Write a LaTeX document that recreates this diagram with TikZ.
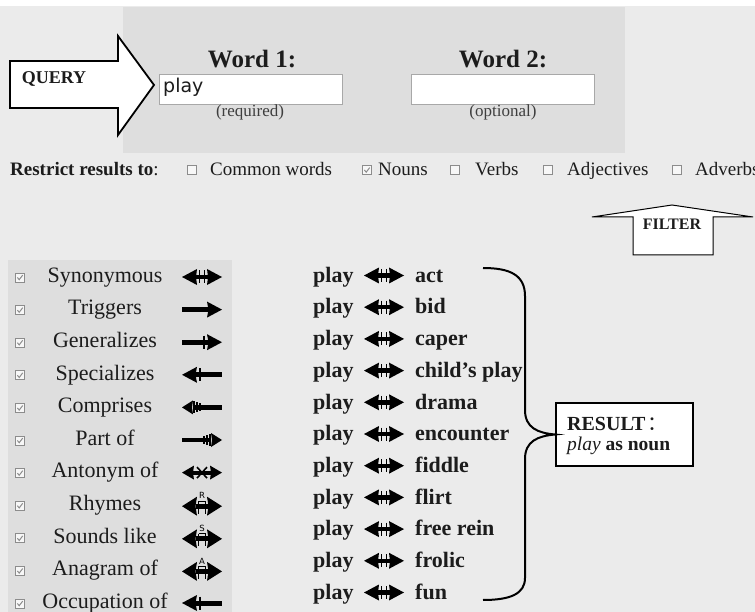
\documentclass[tikz,border=0pt]{standalone}
\usepackage{fontspec}
\setmainfont{Liberation Serif}
\newfontfamily\cjk{Noto Sans CJK SC}
\newfontfamily\dejavu{DejaVu Sans}
\definecolor{bgc}{HTML}{EBEBEB}
\definecolor{panelc}{HTML}{DEDEDE}
\definecolor{txt}{HTML}{1C1C1C}
\definecolor{cbc}{HTML}{8C8C8C}
\definecolor{fieldc}{HTML}{A8A8A8}
\tikzset{
  fsz/.style={font=\fontsize{#1}{#1}\selectfont},
  lab/.style={fsz=22, text=txt, inner sep=0, anchor=mid},
  bw/.style={font=\fontsize{22}{22}\selectfont\bfseries, text=txt, inner sep=0, anchor=mid west},
  opt/.style={fsz=19, text=txt, inner sep=0, anchor=mid west},
  field/.style={draw=fieldc, fill=white, line width=0.8, minimum width=183, minimum height=30, inner sep=0},
  cbdraw/.style={draw=cbc, fill=white!97!black, line width=0.7},
  pics/cbox/.style={code={\draw[cbdraw] (-4.5,-4.5) rectangle (4.5,4.5);}},
  pics/cbchk/.style={code={\draw[cbdraw] (-4.5,-4.5) rectangle (4.5,4.5);
      \draw[cbc, line width=1] (-2.6,0) -- (-0.8,2.2) -- (2.7,-2.4);}},
  pics/syn/.style={code={
      \fill (-20,0) -- (-5,-8) -- (-6,0) -- (-5,8) -- cycle;
      \fill (20,0) -- (5,-8) -- (6,0) -- (5,8) -- cycle;
      \fill (-6,-2.2) rectangle (6,2.2);
      \draw[line width=1.5] (-2.5,-6.5) -- (-2.5,6.5) (2.5,-6.5) -- (2.5,6.5);}},
  pics/trig/.style={code={
      \fill (-20,-2.5) rectangle (8,2.5);
      \fill (20,0) -- (5,-8) -- (6.5,0) -- (5,8) -- cycle;}},
  pics/gen/.style={code={
      \fill (-20,-2.5) rectangle (8,2.5);
      \fill (20,0) -- (5,-8) -- (6.5,0) -- (5,8) -- cycle;
      \draw[line width=1.5] (2,-6.5) -- (2,6.5);}},
  pics/spec/.style={code={
      \fill (-8,-2.5) rectangle (20,2.5);
      \fill (-20,0) -- (-5,-8) -- (-6.5,0) -- (-5,8) -- cycle;
      \draw[line width=1.5] (-2,-6.5) -- (-2,6.5);}},
  pics/comp/.style={code={
      \fill (-8,-2.5) rectangle (20,2.5);
      \fill (-20,0) -- (-9,-7) -- (-10,0) -- (-9,7) -- cycle;
      \draw[line width=1.3] (-8,-6) -- (-8,6) (-5,-5) -- (-5,5) (-2,-4) -- (-2,4);}},
  pics/part/.style={code={
      \fill (-20,-2) rectangle (8,2);
      \fill (20,0) -- (9,-7) -- (10,0) -- (9,7) -- cycle;
      \draw[line width=1.3] (8,-6) -- (8,6) (5,-5) -- (5,5) (2,-4) -- (2,4);}},
  pics/ant/.style={code={
      \fill (-20,0) -- (-8,-7) -- (-9,0) -- (-8,7) -- cycle;
      \fill (20,0) -- (8,-7) -- (9,0) -- (8,7) -- cycle;
      \fill (-9,-2) rectangle (9,2);
      \draw[line width=1.6] (-5,-5.5) -- (5,5.5) (-5,5.5) -- (5,-5.5);}},
  pics/dbl/.style={code={
      \fill (-20,1) -- (-5,-8.5) -- (-6.5,1) -- (-5,10.5) -- cycle;
      \fill (20,1) -- (5,-8.5) -- (6.5,1) -- (5,10.5) -- cycle;
      \fill (-6.5,-1.5) rectangle (6.5,3.5);
      \draw[line width=1.1] (-3.5,-4) -- (-3.5,8.5) (3.5,-4) -- (3.5,8.5) (-3.5,-4) -- (3.5,-4);
      \node[font=\dejavu\fontsize{8.5}{8.5}\selectfont, inner sep=0] at (0,-9.5) {#1};}},
  bigarrow/.style={draw=black, fill=white, line width=1.8, line join=miter},
  smallarrow/.style={draw=black, fill=white, line width=1, line join=miter},
  resbox/.style={draw=black, fill=white, line width=2, minimum width=137, minimum height=63, inner sep=0},
  brace/.style={draw=black, line width=2}
}
\begin{document}
\begin{tikzpicture}[x=1pt, y=-1pt]
\clip (0,0) rectangle (755,612);
\fill[bgc] (0,0) rectangle (755,612);
\fill[white] (0,0) rectangle (755,6);
\fill[panelc] (123,7) rectangle (625,153);
\fill[panelc] (8,260) rectangle (232,612);

% query panel
\node[font=\fontsize{25}{25}\selectfont\bfseries, text=txt, inner sep=0, anchor=base] (w1) at (252,68) {Word 1:};
\node[font=\fontsize{25}{25}\selectfont\bfseries, text=txt, inner sep=0, anchor=base] (w2) at (503,68) {Word 2:};
\node[field] (f1) at (251,89) {};
\node[field] (f2) at (503,89) {};
\node[font=\dejavu\fontsize{19}{19}\selectfont, text=txt, inner sep=0, anchor=mid west] (q) at (163,90) {play};
\node[fsz=17, text=txt!85, inner sep=0, anchor=mid] (req) at (250,114) {(required)};
\node[fsz=17, text=txt!85, inner sep=0, anchor=mid] (opt2) at (503,114) {(optional)};

% QUERY arrow
\path[bigarrow] (10,61) -- (118,61) -- (118,36) -- (154,85) -- (118,135) -- (118,108) -- (10,108) -- cycle;
\node[font=\fontsize{18}{18}\selectfont\bfseries, text=txt, inner sep=0, anchor=mid] (query) at (54,81) {QUERY};

% restrict row
\node[font=\fontsize{19}{19}\selectfont, text=txt, inner sep=0, anchor=mid west] (restr) at (10,173) {\bfseries Restrict results to\mdseries:};
\pic at (192,170) {cbox};
\node[opt] (o1) at (210,173) {Common words};
\pic at (367,170) {cbchk};
\node[opt] (o2) at (378,173) {Nouns};
\pic at (455,170) {cbox};
\node[opt] (o3) at (475,173) {Verbs};
\pic at (548,170) {cbox};
\node[opt] (o4) at (567,173) {Adjectives};
\pic at (677,170) {cbox};
\node[opt] (o5) at (695,173) {Adverbs};

% FILTER arrow
\path[smallarrow] (633,255) -- (633,217) -- (592,217) -- (672,205) -- (753,217) -- (713,217) -- (713,255) -- cycle;
\node[font=\fontsize{16}{16}\selectfont\bfseries, text=txt, inner sep=0, anchor=mid] (filt) at (672,227) {FILTER};

% relation list
\foreach \t [count=\i from 0] in {Synonymous,Triggers,Generalizes,Specializes,Comprises,Part of,Antonym of,Rhymes,Sounds like,Anagram of,Occupation of}{
  \node[lab] (rel\i) at (105,280+32.6*\i) {\t};
  \pic at (20,277.5+32.6*\i) {cbchk};
}
\pic at (202,277+32.6*0) {syn};
\pic at (202,277+32.6*1) {trig};
\pic at (202,277+32.6*2) {gen};
\pic at (202,277+32.6*3) {spec};
\pic at (202,277+32.6*4) {comp};
\pic at (202,277+32.6*5) {part};
\pic at (202,277+32.6*6) {ant};
\pic at (202,277+32.6*7) {dbl=R};
\pic at (202,277+32.6*8) {dbl=S};
\pic at (202,277+32.6*9) {dbl=A};
\pic at (202,277+32.6*10) {spec};

% results
\foreach \w [count=\i from 0] in {act,bid,caper,child's play,drama,encounter,fiddle,flirt,free rein,frolic,fun}{
  \node[bw] (pl\i) at (313,280+31.7*\i) {play};
  \pic at (384,275.5+31.7*\i) {syn};
  \node[bw] (res\i) at (415,280+31.7*\i) {\w};
}

% result box and brace
\node[resbox] (res) at (624.5,434.5) {};
\node[font=\fontsize{20}{20}\selectfont\bfseries, text=txt, inner sep=0, anchor=base west] (rl1) at (567,430) {RESULT\hspace{2pt}{\cjk\mdseries ：}};
\node[font=\fontsize{19.5}{19.5}\selectfont\bfseries, text=txt, inner sep=0, anchor=base west] (rl2) at (567,450) {\mdseries\itshape play\upshape\bfseries{} as noun};
\coordinate (bt) at (483,268);
\coordinate (bb) at (483,600);
\draw[brace] (bt) .. controls (510,268) and (525,275) .. (525,296) -- (525,410)
   .. controls (525,428) and (538,433) .. (res.west)
   .. controls (538,436) and (525,441) .. (525,459) -- (525,578)
   .. controls (525,594) and (510,600) .. (bb);
\end{tikzpicture}
\end{document}
